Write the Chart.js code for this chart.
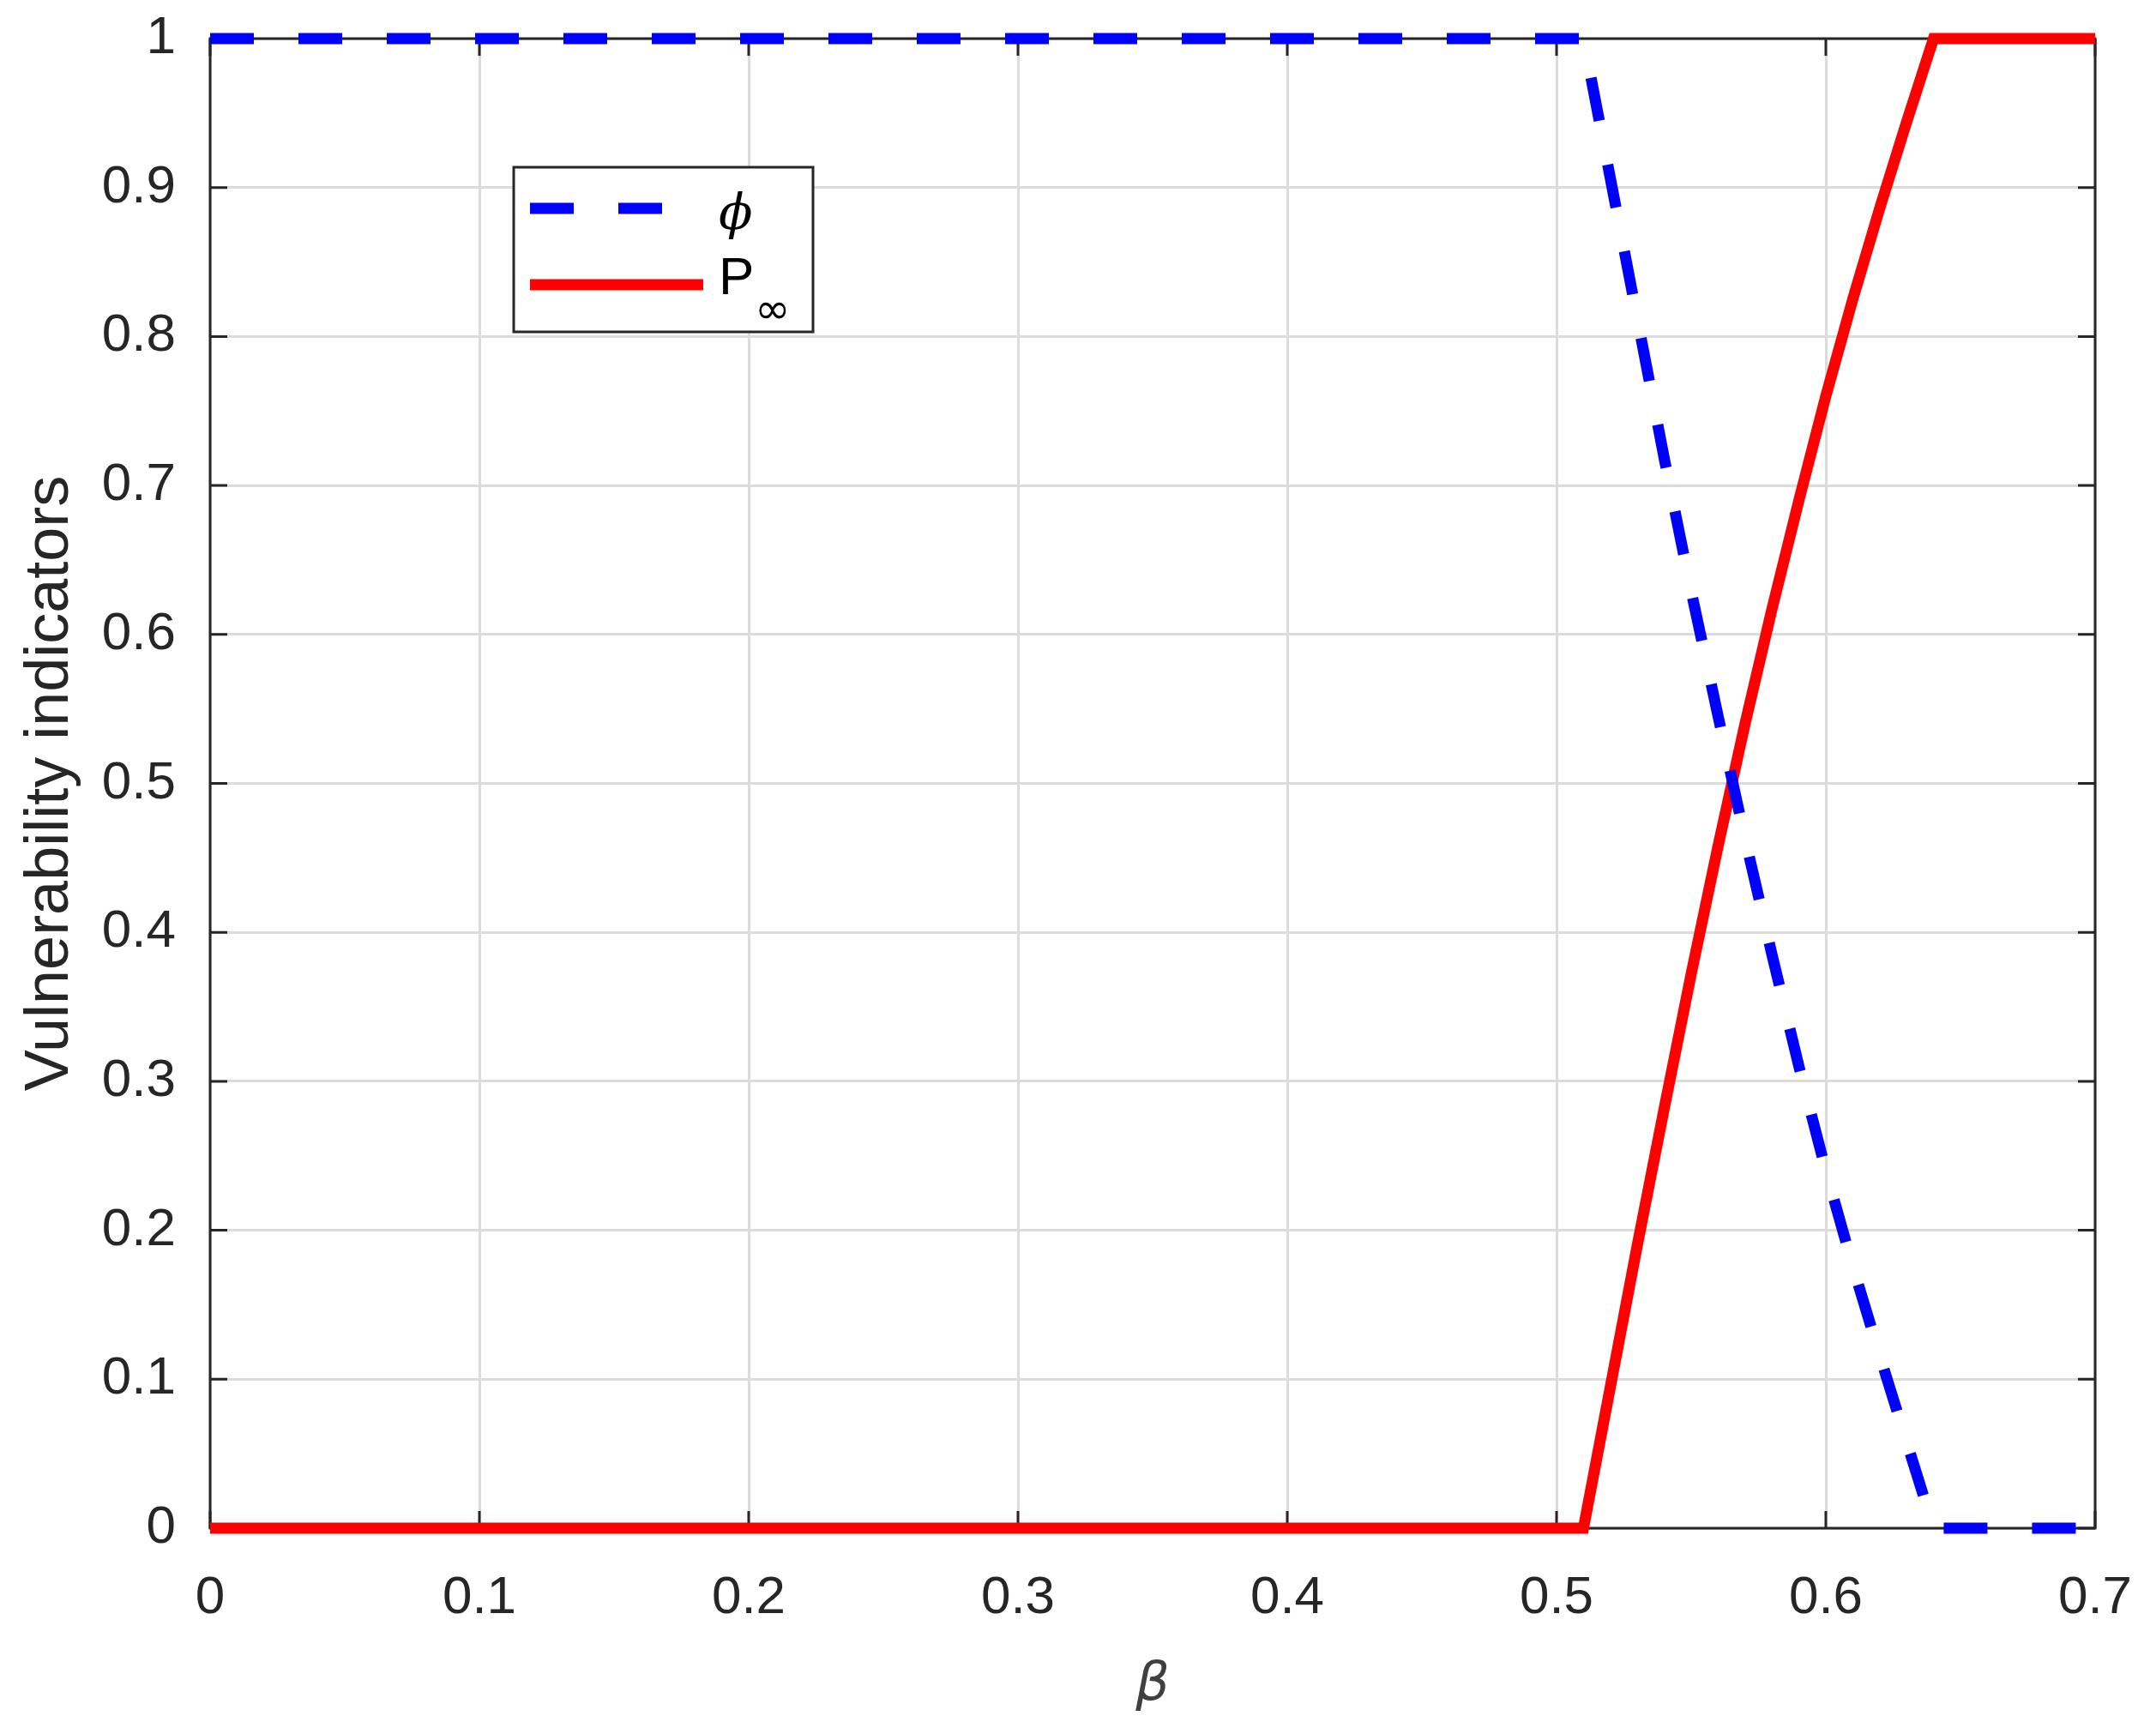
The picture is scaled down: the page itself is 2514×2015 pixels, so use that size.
<!DOCTYPE html>
<html>
<head>
<meta charset="utf-8">
<script src="https://cdn.jsdelivr.net/npm/chart.js@4.4.0/dist/chart.umd.min.js"></script>
<style>
  html, body { margin: 0; padding: 0; background: #fff; }
  #wrap { width: 2514px; height: 2015px; }
</style>
</head>
<body>
<div id="wrap"><canvas id="vulnChart" width="2514" height="2015"></canvas></div>
<script>
// values
const beta = [0, 0.51, 0.52, 0.53, 0.54, 0.55, 0.56, 0.57, 0.58, 0.59, 0.60, 0.61, 0.62, 0.63, 0.64, 0.7];
const phiValues = [1, 1, 0.906, 0.812, 0.718, 0.629, 0.545, 0.463, 0.385, 0.31, 0.24, 0.176, 0.116, 0.058, 0, 0];
const pInfValues = [0, 0, 0.095, 0.19, 0.282, 0.372, 0.458, 0.54, 0.617, 0.69, 0.76, 0.825, 0.886, 0.944, 1, 1];
const xTicks = [0, 0.1, 0.2, 0.3, 0.4, 0.5, 0.6, 0.7];
const yTicks = [0, 0.1, 0.2, 0.3, 0.4, 0.5, 0.6, 0.7, 0.8, 0.9, 1];

const FONT = '"Liberation Sans", Arial, Helvetica, sans-serif';
const AXIS_COLOR = '#262626';

const toPoints = vals => vals.map((v, i) => ({ x: beta[i], y: v }));

// box with inward ticks on all four sides, like matlab
const framePlugin = {
    id: 'frame',
    beforeDatasetsDraw(chart) {
        const { ctx, chartArea: a, scales } = chart;
        const tl = 20;
        ctx.save();
        ctx.strokeStyle = AXIS_COLOR;
        ctx.lineWidth = 3;
        ctx.strokeRect(a.left, a.top, a.right - a.left, a.bottom - a.top);
        ctx.beginPath();
        xTicks.forEach(v => {
            const px = scales.x.getPixelForValue(v);
            ctx.moveTo(px, a.bottom); ctx.lineTo(px, a.bottom - tl);
            ctx.moveTo(px, a.top); ctx.lineTo(px, a.top + tl);
        });
        yTicks.forEach(v => {
            const py = scales.y.getPixelForValue(v);
            ctx.moveTo(a.left, py); ctx.lineTo(a.left + tl, py);
            ctx.moveTo(a.right, py); ctx.lineTo(a.right - tl, py);
        });
        ctx.stroke();
        ctx.restore();
    }
};

// legend drawn inside the axes
const boxLegend = {
    id: 'boxLegend',
    afterDraw(chart) {
        const { ctx } = chart;
        const bx = 599, by = 195, bw = 349, bh = 192;
        ctx.save();
        ctx.fillStyle = '#fff';
        ctx.fillRect(bx, by, bw, bh);
        ctx.strokeStyle = AXIS_COLOR;
        ctx.lineWidth = 3;
        ctx.strokeRect(bx, by, bw, bh);

        const ds = chart.data.datasets;
        // phi sample
        ctx.strokeStyle = ds[0].borderColor;
        ctx.lineWidth = ds[0].borderWidth;
        ctx.setLineDash(ds[0].borderDash);
        ctx.beginPath(); ctx.moveTo(618, 243); ctx.lineTo(775, 243); ctx.stroke();
        // P sample
        ctx.setLineDash([]);
        ctx.strokeStyle = ds[1].borderColor;
        ctx.lineWidth = ds[1].borderWidth;
        ctx.beginPath(); ctx.moveTo(618, 332); ctx.lineTo(820, 332); ctx.stroke();

        ctx.fillStyle = '#000';
        ctx.textBaseline = 'middle';
        ctx.textAlign = 'left';
        ctx.font = 'italic 58px "DejaVu Serif", serif';
        ctx.fillText('ϕ', 838, 252);
        ctx.font = '62px ' + FONT;
        ctx.fillText('P', 838, 326);
        ctx.font = '50px "DejaVu Sans", sans-serif';
        ctx.fillText('∞', 880, 364);
        ctx.restore();
    }
};

new Chart(document.getElementById('vulnChart').getContext('2d'), {
    type: 'line',
    data: {
        datasets: [{
            label: 'ϕ',
            data: toPoints(phiValues),
            borderColor: '#0000ff',
            borderWidth: 13,
            borderDash: [51, 52],
            borderCapStyle: 'butt',
            pointRadius: 0,
            tension: 0,
            clip: 20
        }, {
            label: 'P∞',
            data: toPoints(pInfValues),
            borderColor: '#ff0000',
            borderWidth: 13,
            borderJoinStyle: 'miter',
            pointRadius: 0,
            tension: 0,
            clip: 20
        }]
    },
    options: {
        responsive: false,
        devicePixelRatio: 1,
        animation: false,
        parsing: false,
        layout: { padding: { left: 0, top: 45, right: 71, bottom: 0 } },
        plugins: {
            legend: { display: false },
            tooltip: { enabled: false }
        },
        scales: {
            x: {
                type: 'linear',
                min: 0,
                max: 0.7,
                afterBuildTicks: s => { s.ticks = xTicks.map(v => ({ value: v })); },
                afterFit: s => { s.height = 233; s.paddingLeft = 0; s.paddingRight = 0; },
                grid: { color: '#dcdcdc', lineWidth: 3, drawTicks: false },
                border: { display: false },
                ticks: {
                    padding: 45,
                    color: AXIS_COLOR,
                    maxRotation: 0,
                    autoSkip: false,
                    font: { family: FONT, size: 62 },
                    callback: v => String(v)
                },
                title: {
                    display: true,
                    text: 'β',
                    color: '#404040',
                    padding: { top: 0, bottom: 12 },
                    font: { family: '"DejaVu Sans", sans-serif', size: 62, style: 'italic', lineHeight: 1.2 }
                }
            },
            y: {
                type: 'linear',
                min: 0,
                max: 1,
                afterBuildTicks: s => { s.ticks = yTicks.map(v => ({ value: v })); },
                afterFit: s => { s.width = 245; s.paddingTop = 0; s.paddingBottom = 0; },
                grid: { color: '#dcdcdc', lineWidth: 3, drawTicks: false },
                border: { display: false },
                ticks: {
                    padding: 40,
                    color: AXIS_COLOR,
                    autoSkip: false,
                    font: { family: FONT, size: 62 },
                    callback: v => String(v)
                },
                title: {
                    display: true,
                    text: 'Vulnerability indicators',
                    color: AXIS_COLOR,
                    padding: { top: 16, bottom: 0 },
                    font: { family: FONT, size: 72, lineHeight: 1.2 }
                }
            }
        }
    },
    plugins: [framePlugin, boxLegend]
});
</script>
</body>
</html>
